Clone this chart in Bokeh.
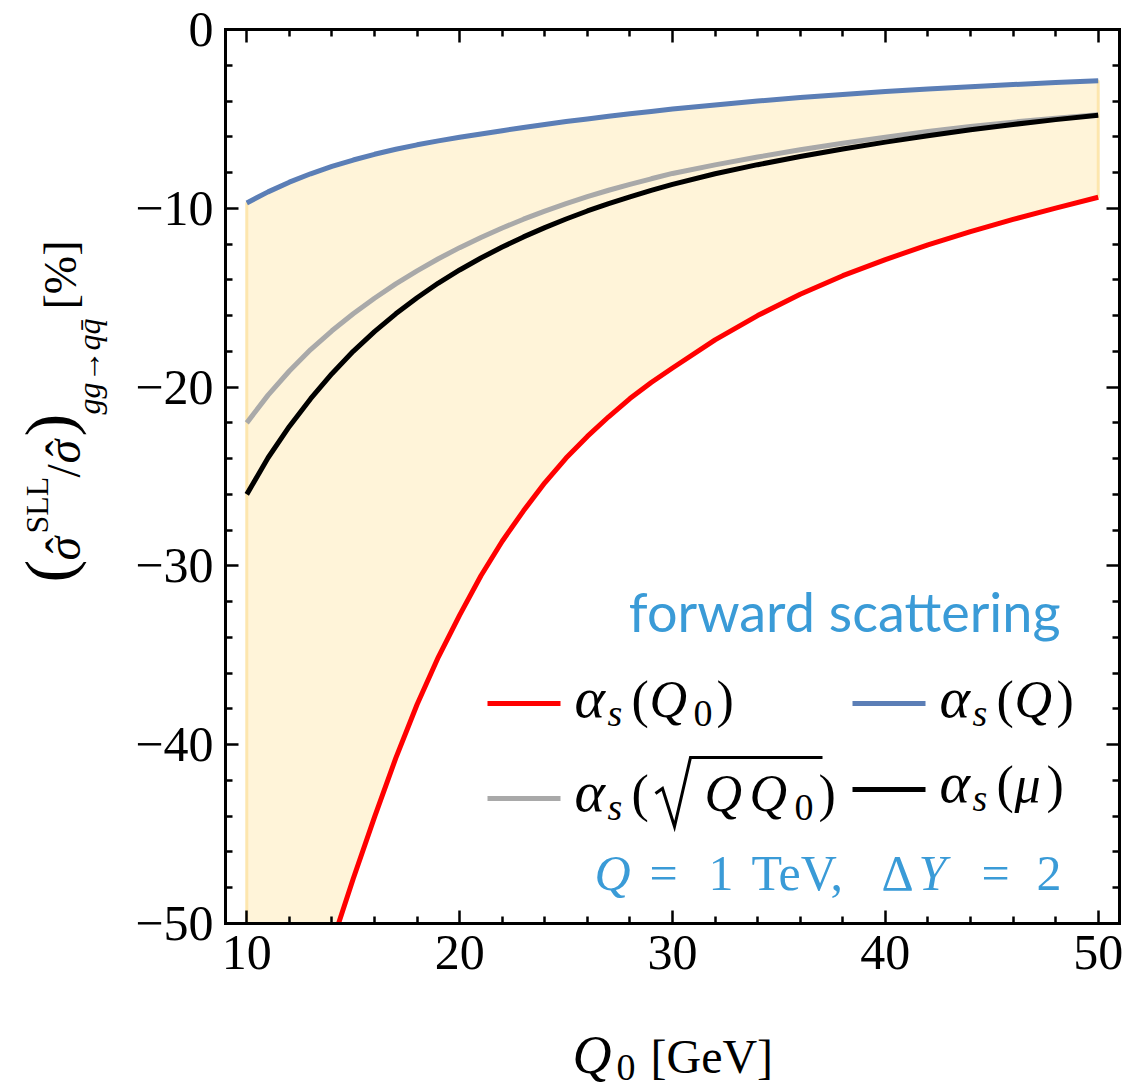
import math
from bokeh.plotting import figure
from bokeh.models import Range1d, LinearAxis, FixedTicker, Label
from bokeh.embed import file_html
from bokeh.resources import INLINE

# ---------------- data ----------------
q0 = [10, 11, 12, 13, 14, 15, 16, 17, 18, 19, 20, 21, 22, 23, 24, 25, 26,
      27, 28, 29, 30, 32, 34, 36, 38, 40, 42, 44, 46, 48, 50]
as_Q = [-9.7, -9.08, -8.54, -8.07, -7.66, -7.3, -6.98, -6.7, -6.45, -6.23,
        -6.03, -5.84, -5.66, -5.48, -5.31, -5.15, -5.0, -4.85, -4.71, -4.58,
        -4.45, -4.22, -4.0, -3.8, -3.63, -3.47, -3.33, -3.2, -3.08, -2.97, -2.87]
as_sqrtQQ0 = [-22.0, -20.45, -19.1, -17.9, -16.85, -15.9, -15.03, -14.23,
              -13.5, -12.82, -12.2, -11.63, -11.1, -10.61, -10.16, -9.74,
              -9.35, -8.99, -8.66, -8.35, -8.05, -7.57, -7.13, -6.73, -6.36,
              -6.02, -5.71, -5.43, -5.18, -4.96, -4.77]
as_mu = [-26.0, -23.95, -22.2, -20.65, -19.25, -18.0, -16.9, -15.9, -15.0,
         -14.18, -13.45, -12.78, -12.17, -11.6, -11.08, -10.6, -10.15, -9.74,
         -9.36, -9.0, -8.66, -8.07, -7.56, -7.1, -6.68, -6.3, -5.94, -5.61,
         -5.31, -5.04, -4.8]
q0_red = [14.31, 15, 16, 17, 18, 19, 20, 21, 22, 23, 24, 25, 26, 27, 28, 29,
          30, 32, 34, 36, 38, 40, 42, 44, 46, 48, 50]
as_Q0 = [-50.0, -47.5, -44.05, -40.75, -37.75, -35.1, -32.75, -30.55, -28.62,
         -26.92, -25.35, -23.97, -22.76, -21.66, -20.64, -19.74, -18.93,
         -17.36, -16.0, -14.81, -13.77, -12.87, -12.04, -11.3, -10.62, -9.99,
         -9.38]

x_major = [10, 20, 30, 40, 50]
x_minor = [12, 14, 16, 18, 22, 24, 26, 28, 32, 34, 36, 38, 42, 44, 46, 48]
y_major = [-50, -40, -30, -20, -10, 0]
y_minor = [-48, -46, -44, -42, -38, -36, -34, -32, -28, -26, -24, -22,
           -18, -16, -14, -12, -8, -6, -4, -2]
y_labels = {v: ("\u2212%d" % abs(v) if v < 0 else "0") for v in y_major}

XA, XB, YA, YB = 9, 51, -50, 0          # plotted data window (the frame box)

# ---------------- geometry: frame box in page pixels ----------------
FL, FR, FT, FB = 225, 1119, 29, 923
W, H = 1127, 1087


def dx(px):
    return XA + (px - FL) * (XB - XA) / (FR - FL)


def dy(py):
    return YB - (py - FT) * (YB - YA) / (FB - FT)


p = figure(width=W, height=H,
           x_range=Range1d(dx(0), dx(W)), y_range=Range1d(dy(H), dy(0)),
           output_backend="svg", toolbar_location=None,
           min_border_left=0, min_border_right=0,
           min_border_top=0, min_border_bottom=0)
p.grid.visible = False
p.outline_line_color = None
p.background_fill_color = "white"
p.border_fill_color = "white"

SERIF = "Liberation Serif"


def base_axis(ax, loc, bounds):
    ax.fixed_location = loc
    ax.bounds = bounds
    ax.axis_line_width = 3
    ax.axis_line_color = "black"
    ax.axis_line_cap = "square"
    ax.major_tick_in = 13
    ax.major_tick_out = 0
    ax.minor_tick_in = 7
    ax.minor_tick_out = 0
    ax.major_tick_line_width = 2.5
    ax.minor_tick_line_width = 2.5
    ax.major_tick_line_color = "black"
    ax.minor_tick_line_color = "black"


def labelled_axis(ax, loc, bounds, ticks, minors):
    base_axis(ax, loc, bounds)
    ax.ticker = FixedTicker(ticks=ticks, minor_ticks=minors)
    ax.major_label_text_font = SERIF
    ax.major_label_text_font_size = "50px"
    ax.major_label_text_color = "black"
    ax.major_label_standoff = 12


labelled_axis(p.xaxis[0], YA, (XA, XB), x_major, x_minor)
labelled_axis(p.yaxis[0], XA, (YA, YB), y_major, y_minor)
p.yaxis[0].major_label_overrides = y_labels

# mirrored ticks on top and right, with no tick labels at all
for side, loc, bounds, majors, minors in (("above", YB, (XA, XB), x_major, x_minor),
                                          ("right", XB, (YA, YB), y_major, y_minor)):
    for tks, length in ((minors, 7), (majors, 13)):
        ax = LinearAxis()
        base_axis(ax, loc, bounds)
        ax.ticker = FixedTicker(ticks=[], minor_ticks=tks)
        ax.minor_tick_in = length
        p.add_layout(ax, side)

# ---------------- band + curves ----------------
band_x = q0 + q0_red[::-1] + [q0[0]]
band_y = as_Q + as_Q0[::-1] + [YA]
p.patch(band_x, band_y, fill_color="#FFF4D9", line_color="#FDE6AE", line_width=3)

LW = 5
p.line(q0_red, as_Q0, line_color="#FF0000", line_width=LW)
p.line(q0, as_sqrtQQ0, line_color="#A9A9A9", line_width=LW)
p.line(q0, as_mu, line_color="#000000", line_width=LW)
p.line(q0, as_Q, line_color="#5B7EB6", line_width=LW)

K = 0.345   # offset between Bokeh's "alphabetic" anchor and the drawn baseline


def put(text, px, py, size, italic=False, color="black", font=SERIF,
        align="left", rot=False):
    if rot:
        px, py, angle = px - K * size, py, math.pi / 2
    else:
        px, py, angle = px, py - K * size, 0.0
    p.add_layout(Label(x=dx(px), y=dy(py), text=text, text_font=font,
                       text_font_size="%dpx" % size,
                       text_font_style="italic" if italic else "normal",
                       text_color=color, text_baseline="alphabetic",
                       text_align=align, angle=angle))


# legend swatches
sw_x0 = [dx(487), dx(852), dx(487), dx(852)]
sw_x1 = [dx(560), dx(925), dx(560), dx(925)]
sw_y = [dy(703), dy(703), dy(798), dy(789)]
p.segment(x0=sw_x0, x1=sw_x1, y0=sw_y, y1=sw_y,
          line_color=["#FF0000", "#5B7EB6", "#A9A9A9", "#000000"], line_width=LW)

M, S, A = 52, 38, 58
# row 1 left: alpha_s(Q_0)
b = 717
put("\u03b1", 574, b, A, True); put("s", 607, b + 9, S, True)
put("(", 631, b, M); put("Q", 649, b, M, True); put("0", 693, b + 9, S); put(")", 716, b, M)
# row 1 right: alpha_s(Q)
put("\u03b1", 939, b, A, True); put("s", 972, b + 9, S, True)
put("(", 996, b, M); put("Q", 1014, b, M, True); put(")", 1056, b, M)
# row 2 left: alpha_s(sqrt(Q Q0))
b = 811
put("\u03b1", 574, b, A, True); put("s", 607, b + 9, S, True)
put("(", 631, b, M)
rad_px = [655, 662, 674, 690, 822]
rad_py = [793, 788, 826, 757, 757]
p.line([dx(v) for v in rad_px], [dy(v) for v in rad_py], line_color="black",
       line_width=3, line_join="miter")
put("Q", 704, b, M, True); put("Q", 749, b, M, True); put("0", 794, b + 9, S)
put(")", 818, b, M)
# row 2 right: alpha_s(mu)
b = 802
put("\u03b1", 939, b, A, True); put("s", 972, b + 9, S, True)
put("(", 996, b, M); put("\u03bc", 1014, b, M, True); put(")", 1046, b, M)

BLUE_TXT = "#3A9BD7"
put("forward scattering", 1060, 630, 54, color=BLUE_TXT, font="Lato", align="right")
b = 890
put("Q", 594, b, 50, True, BLUE_TXT)
put("=", 649, b, 50, color=BLUE_TXT)
put("1", 708, b, 50, color=BLUE_TXT)
put("TeV,", 751, b, 50, color=BLUE_TXT)
put("\u0394", 881, b, 50, color=BLUE_TXT)
put("Y", 918, b, 50, True, BLUE_TXT)
put("=", 981, b, 50, color=BLUE_TXT)
put("2", 1036, b, 50, color=BLUE_TXT)

# x axis label: Q_0 [GeV]
put("Q", 572, 1073, 54, True)
put("0", 616, 1080, 38)
put("[GeV]", 650, 1073, 48)

# y axis label (rotated, reads bottom to top): (sigma^SLL / sigma)_{gg->qqbar} [%]
put("(", 72, 582, 68, rot=True)
put("\u03c3", 80, 560, 48, True, rot=True)
put("\u02c6", 80, 553, 48, rot=True)
put("SLL", 48, 533, 32, rot=True)
put("/", 80, 477, 48, rot=True)
put("\u03c3", 80, 463, 48, True, rot=True)
put("\u02c6", 80, 456, 48, rot=True)
put(")", 72, 436, 68, rot=True)
put("gg\u2192qq\u0304", 100, 414, 32, True, rot=True)
put("[%]", 76, 309, 46, rot=True)

open("out.html", "w").write(file_html(p, INLINE))
